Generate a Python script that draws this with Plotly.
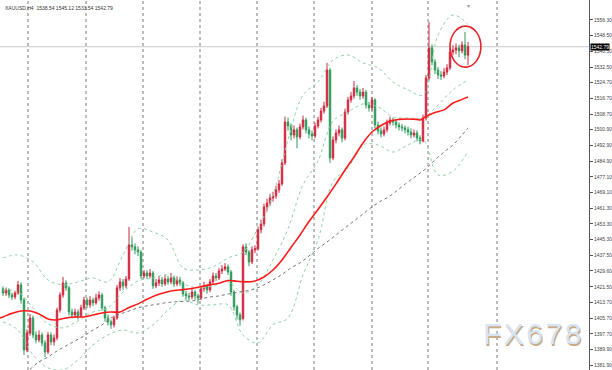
import plotly.graph_objects as go

symbol = "XAUUSD,H4"
last_ohlc = [1538.54, 1545.12, 1533.54, 1542.79]
last_price = 1542.79

bars = list(range(156))

opens = [1420.5, 1418.4, 1419.9, 1417.4, 1416.4, 1418.4, 1422.5, 1414.9, 1389.6, 1398.2,
         1405.8, 1397.2, 1394.7, 1397.2, 1393.2, 1388.6, 1397.2, 1393.7, 1395.7, 1409.8,
         1417.4, 1423.5, 1421.0, 1408.8, 1407.3, 1408.8, 1406.8, 1410.9, 1414.9, 1412.4,
         1414.9, 1413.4, 1415.9, 1417.4, 1410.9, 1405.8, 1403.8, 1402.3, 1405.8, 1421.0,
         1424.0, 1422.0, 1425.5, 1442.7, 1441.7, 1440.2, 1439.1, 1427.0, 1428.5, 1427.0,
         1428.5, 1422.0, 1423.5, 1425.0, 1423.0, 1425.5, 1424.0, 1426.0, 1423.0, 1425.0,
         1423.5, 1417.9, 1416.9, 1416.4, 1418.9, 1416.9, 1415.9, 1420.5, 1422.0, 1419.9,
         1424.0, 1427.0, 1426.0, 1429.5, 1430.5, 1431.6, 1429.0, 1418.9, 1411.4, 1407.3,
         1405.5, 1441.7, 1439.1, 1434.1, 1440.2, 1440.7, 1450.3, 1453.3, 1461.9, 1463.9,
         1466.4, 1467.4, 1470.5, 1473.5, 1484.1, 1504.8, 1502.8, 1498.2, 1500.8, 1497.2,
         1502.3, 1505.8, 1500.8, 1498.7, 1497.7, 1502.8, 1505.8, 1510.3, 1512.9, 1531.0,
         1486.6, 1495.7, 1499.2, 1500.8, 1496.7, 1509.8, 1515.9, 1517.9, 1522.0, 1519.9,
         1517.9, 1519.9, 1513.4, 1511.9, 1515.9, 1503.3, 1500.3, 1498.7, 1500.8, 1504.3,
         1505.8, 1504.8, 1503.3, 1502.3, 1501.8, 1500.8, 1499.7, 1498.2, 1499.2, 1496.7,
         1495.2, 1506.8, 1527.0, 1542.2, 1535.1, 1531.0, 1528.5, 1528.0, 1530.0, 1532.1,
         1540.1, 1541.2, 1542.2, 1540.7, 1543.7, 1538.54]

highs = [1421.8, 1421.2, 1420.8, 1418.6, 1419.5, 1424.5, 1423.8, 1416.0, 1400.0, 1407.8,
         1407.0, 1399.0, 1399.5, 1398.5, 1394.5, 1398.8, 1398.5, 1397.5, 1411.0, 1418.8,
         1426.5, 1424.8, 1422.0, 1410.5, 1410.5, 1410.0, 1412.5, 1416.5, 1416.0, 1416.8,
         1416.0, 1418.0, 1419.2, 1418.5, 1412.0, 1407.5, 1405.0, 1407.0, 1422.5, 1426.0,
         1425.5, 1427.0, 1451.8, 1446.5, 1443.5, 1442.0, 1440.0, 1430.0, 1429.8, 1430.5,
         1429.5, 1425.5, 1427.0, 1426.5, 1427.5, 1427.0, 1428.5, 1427.2, 1426.8, 1426.5,
         1424.5, 1419.5, 1418.5, 1421.0, 1420.0, 1418.0, 1422.0, 1424.0, 1423.0, 1425.5,
         1428.8, 1428.5, 1431.0, 1432.5, 1433.5, 1432.8, 1430.0, 1420.0, 1412.5, 1408.5,
         1443.0, 1443.5, 1440.0, 1442.0, 1442.5, 1452.0, 1455.5, 1463.5, 1466.0, 1468.5,
         1469.5, 1472.5, 1475.5, 1486.0, 1507.5, 1507.0, 1504.0, 1503.0, 1502.0, 1504.0,
         1508.0, 1507.0, 1502.5, 1500.5, 1504.5, 1507.5, 1512.0, 1515.0, 1534.6, 1532.0,
         1497.5, 1501.0, 1503.0, 1502.0, 1511.5, 1517.5, 1520.0, 1525.5, 1523.5, 1521.5,
         1522.0, 1521.0, 1515.0, 1517.5, 1516.8, 1505.0, 1502.0, 1502.5, 1506.0, 1507.5,
         1507.0, 1506.0, 1504.5, 1503.8, 1503.0, 1502.5, 1501.5, 1501.0, 1500.5, 1498.0,
         1508.5, 1528.5, 1555.3, 1544.0, 1536.5, 1532.5, 1530.5, 1532.0, 1534.0, 1542.0,
         1543.5, 1544.5, 1543.8, 1545.5, 1550.2, 1545.12]

lows = [1416.9, 1417.0, 1415.8, 1414.9, 1415.2, 1417.5, 1413.0, 1387.1, 1388.5, 1396.8,
        1395.5, 1393.0, 1393.5, 1391.5, 1386.1, 1387.5, 1392.0, 1391.8, 1394.5, 1408.5,
        1416.0, 1419.5, 1407.0, 1405.5, 1406.0, 1405.0, 1405.8, 1409.8, 1410.8, 1411.0,
        1411.8, 1412.5, 1414.5, 1409.5, 1404.0, 1402.0, 1400.3, 1401.0, 1404.8, 1419.5,
        1420.0, 1420.8, 1424.5, 1439.8, 1438.0, 1437.0, 1425.5, 1425.8, 1425.5, 1426.0,
        1420.5, 1420.8, 1422.0, 1421.5, 1422.0, 1422.5, 1422.8, 1421.5, 1421.8, 1422.0,
        1416.5, 1415.0, 1414.5, 1415.2, 1415.0, 1413.0, 1414.8, 1419.0, 1418.0, 1418.8,
        1423.0, 1424.5, 1425.0, 1428.0, 1429.5, 1427.5, 1417.0, 1409.5, 1405.0, 1401.8,
        1404.5, 1437.5, 1432.0, 1433.0, 1438.5, 1439.8, 1448.5, 1452.0, 1459.5, 1462.5,
        1464.5, 1466.0, 1469.0, 1472.5, 1483.0, 1500.5, 1495.5, 1496.5, 1491.5, 1496.0,
        1501.0, 1499.0, 1496.5, 1495.5, 1496.5, 1501.5, 1504.5, 1509.0, 1511.8, 1484.1,
        1485.5, 1494.0, 1497.5, 1494.5, 1495.5, 1508.5, 1514.5, 1516.5, 1518.0, 1516.0,
        1516.5, 1511.5, 1510.0, 1510.5, 1501.5, 1498.5, 1497.0, 1497.5, 1499.5, 1503.0,
        1503.0, 1501.5, 1500.5, 1500.0, 1499.0, 1498.0, 1496.5, 1497.0, 1495.0, 1493.5,
        1494.5, 1505.5, 1526.0, 1533.5, 1529.0, 1526.5, 1526.0, 1526.8, 1528.5, 1531.0,
        1538.5, 1539.0, 1537.5, 1539.5, 1536.5, 1533.54]

closes = [1418.4, 1419.9, 1417.4, 1416.4, 1418.4, 1422.5, 1414.9, 1389.6, 1398.2, 1405.8,
          1397.2, 1394.7, 1397.2, 1393.2, 1388.6, 1397.2, 1393.7, 1395.7, 1409.8, 1417.4,
          1423.5, 1421.0, 1408.8, 1407.3, 1408.8, 1406.8, 1410.9, 1414.9, 1412.4, 1414.9,
          1413.4, 1415.9, 1417.4, 1410.9, 1405.8, 1403.8, 1402.3, 1405.8, 1421.0, 1424.0,
          1422.0, 1425.5, 1442.7, 1441.7, 1440.2, 1439.1, 1427.0, 1428.5, 1427.0, 1428.5,
          1422.0, 1423.5, 1425.0, 1423.0, 1425.5, 1424.0, 1426.0, 1423.0, 1425.0, 1423.5,
          1417.9, 1416.9, 1416.4, 1418.9, 1416.9, 1415.9, 1420.5, 1422.0, 1419.9, 1424.0,
          1427.0, 1426.0, 1429.5, 1430.5, 1431.6, 1429.0, 1418.9, 1411.4, 1407.3, 1404.8,
          1441.7, 1439.1, 1434.1, 1440.2, 1440.7, 1450.3, 1453.3, 1461.9, 1463.9, 1466.4,
          1467.4, 1470.5, 1473.5, 1484.1, 1504.8, 1502.8, 1498.2, 1500.8, 1497.2, 1502.3,
          1505.8, 1500.8, 1498.7, 1497.7, 1502.8, 1505.8, 1510.3, 1512.9, 1531.0, 1486.6,
          1495.7, 1499.2, 1500.8, 1496.7, 1509.8, 1515.9, 1517.9, 1522.0, 1519.9, 1517.9,
          1519.9, 1513.4, 1511.9, 1515.9, 1503.3, 1500.3, 1498.7, 1500.8, 1504.3, 1505.8,
          1504.8, 1503.3, 1502.3, 1501.8, 1500.8, 1499.7, 1498.2, 1499.2, 1496.7, 1495.2,
          1506.8, 1527.0, 1542.2, 1535.1, 1531.0, 1528.5, 1528.0, 1530.0, 1532.1, 1540.1,
          1541.2, 1542.2, 1540.7, 1543.7, 1538.54, 1542.79]

# red moving average
ma_fast_idx = [-1, 0, 3, 6, 9, 12, 15, 18, 21, 24, 27, 30, 33, 36, 39, 42, 45, 48, 51, 54,
               57, 60, 63, 66, 69, 72, 75, 78, 81, 84, 87, 90, 93, 96, 99, 102, 105, 108,
               111, 114, 117, 120, 123, 126, 129, 132, 135, 138, 139, 141, 144, 147, 150,
               153, 155]
ma_fast = [1405.8, 1406.3, 1408.1, 1409.3, 1409.3, 1407.8, 1405.3, 1404.8, 1405.8, 1406.3,
           1406.3, 1407.3, 1408.3, 1408.8, 1408.8, 1411.1, 1412.9, 1415.2, 1417.2, 1418.7,
           1419.7, 1420.1, 1420.7, 1421.6, 1422.5, 1423.3, 1424.7, 1424.3, 1424.0, 1424.5,
           1426.5, 1430.0, 1435.1, 1441.4, 1447.7, 1454.5, 1460.6, 1466.9, 1473.5, 1480.5,
           1487.1, 1494.2, 1499.7, 1503.0, 1505.3, 1506.1, 1506.3, 1506.1, 1505.8, 1507.6,
           1509.6, 1510.9, 1514.4, 1516.2, 1517.4]

# grey dotted slow moving average
ma_slow_idx = [9, 12, 15, 18, 21, 24, 27, 30, 33, 36, 39, 42, 45, 48, 51, 54, 57, 60, 63,
               66, 69, 72, 75, 78, 81, 84, 87, 90, 93, 96, 99, 102, 105, 108, 111, 114, 117,
               120, 123, 126, 129, 132, 135, 138, 141, 144, 147, 150, 153, 155]
ma_slow = [1379.8, 1383.6, 1386.1, 1389.1, 1391.7, 1394.2, 1396.7, 1399.7, 1402.3, 1405.8,
           1407.8, 1409.3, 1410.9, 1411.9, 1412.6, 1413.4, 1413.9, 1414.1, 1414.4, 1415.4,
           1416.4, 1416.9, 1417.9, 1418.7, 1419.4, 1420.5, 1422.5, 1425.0, 1427.8, 1431.1,
           1433.6, 1437.1, 1440.9, 1444.2, 1447.7, 1451.3, 1454.8, 1458.3, 1461.9, 1464.9,
           1467.4, 1470.9, 1474.5, 1477.8, 1481.3, 1485.6, 1489.6, 1493.2, 1498.2, 1501.8]

# Bollinger bands
band_idx = [0, 5, 10, 15, 20, 25, 30, 35, 40, 45, 50, 55, 60, 65, 70, 75, 80, 85, 90, 95,
            100, 105, 110, 115, 120, 125, 130, 135, 140, 145, 150, 155]
band_upper = [1436.1, 1437.6, 1434.1, 1425.0, 1422.5, 1424.0, 1426.0, 1424.0, 1437.6, 1450.8,
              1449.2, 1445.2, 1431.1, 1430.0, 1431.6, 1436.1, 1439.1, 1451.3, 1467.9, 1495.7,
              1518.4, 1525.0, 1536.1, 1538.6, 1534.6, 1532.1, 1525.0, 1521.0, 1518.4, 1548.7,
              1558.8, 1554.0]
band_mid = [1419.9, 1418.9, 1410.9, 1402.8, 1400.8, 1404.3, 1408.8, 1410.9, 1418.9, 1424.5,
            1426.0, 1427.5, 1423.0, 1421.0, 1422.0, 1424.0, 1418.4, 1422.5, 1435.1, 1450.8,
            1473.0, 1485.1, 1505.3, 1509.8, 1513.9, 1512.4, 1507.3, 1506.8, 1506.8, 1513.4,
            1521.0, 1526.0]
band_lower = [1403.8, 1399.7, 1387.1, 1380.6, 1379.6, 1384.6, 1392.2, 1397.2, 1399.7, 1398.2,
              1402.3, 1409.8, 1414.9, 1412.4, 1412.4, 1412.4, 1397.2, 1393.2, 1402.3, 1405.8,
              1427.5, 1445.2, 1474.5, 1481.6, 1493.2, 1493.2, 1489.6, 1493.2, 1495.7, 1478.0,
              1480.0, 1490.0]

price_ticks = [1556.30, 1548.50, 1540.50, 1532.50, 1524.70, 1516.70, 1508.70, 1500.90,
               1492.90, 1484.90, 1477.10, 1469.10, 1461.30, 1453.30, 1445.30, 1437.50,
               1429.60, 1421.50, 1413.70, 1405.70, 1397.70, 1389.90, 1381.90]

grid_bars = [8.33, 27.67, 46.67, 65.67, 84.67, 103.67, 123.0, 141.67, 164.67]
highlight = [149.0, 159.3, 1532.5, 1553.2]  # x0, x1, y0, y1 of the red ring
shift_marker_bar = 155.3

UP = "#d0283f"
DOWN = "#2f9a5a"
BAND = "#8fd3a8"

fig = go.Figure()

for band in (band_upper, band_mid, band_lower):
    fig.add_trace(go.Scatter(x=band_idx, y=band, mode="lines",
                             line=dict(color=BAND, width=1, dash="dot", shape="spline"),
                             hoverinfo="skip"))

fig.add_trace(go.Scatter(x=ma_slow_idx, y=ma_slow, mode="lines",
                         line=dict(color="#777777", width=1, dash="dot", shape="spline"),
                         hoverinfo="skip"))

fig.add_trace(go.Candlestick(
    x=bars, open=opens, high=highs, low=lows, close=closes,
    increasing=dict(line=dict(color=UP, width=1), fillcolor=UP),
    decreasing=dict(line=dict(color=DOWN, width=1), fillcolor=DOWN),
    whiskerwidth=0,
))

fig.add_trace(go.Scatter(x=ma_fast_idx, y=ma_fast, mode="lines",
                         line=dict(color="#ff1a1a", width=1.6, shape="spline"),
                         hoverinfo="skip"))

shapes = []
for g in grid_bars:
    shapes.append(dict(type="line", xref="x", yref="paper", x0=g, x1=g, y0=0, y1=1,
                       line=dict(color="#7a7a7a", width=1, dash="dot"), layer="below"))
shapes.append(dict(type="line", xref="paper", yref="y", x0=0, x1=1, y0=last_price,
                   y1=last_price, line=dict(color="#c8c8c8", width=1), layer="below"))
shapes.append(dict(type="circle", xref="x", yref="y", x0=highlight[0], x1=highlight[1],
                   y0=highlight[2], y1=highlight[3], line=dict(color="#e8242b", width=1.6)))

wm = "F\u200aX\u200a6\u200a7\u200a8"
annotations = [
    dict(text=symbol + "  " + " ".join(f"{v:.2f}" for v in last_ohlc),
         xref="paper", yref="paper", x=0.005, y=0.992, xanchor="left", yanchor="top",
         showarrow=False, font=dict(family="Liberation Sans", size=5, color="#333333")),
    dict(text=f"{last_price:.2f}", xref="paper", yref="y", x=1.0, y=last_price,
         xanchor="left", yanchor="middle", showarrow=False, bgcolor="#000000",
         borderpad=0, xshift=1,
         font=dict(family="Liberation Sans", size=5, color="#ffffff")),
    dict(text="\u25be", xref="x", yref="paper", x=shift_marker_bar, y=0.985,
         xanchor="center", yanchor="middle", showarrow=False,
         font=dict(family="DejaVu Sans", size=6, color="#9a9a9a")),
    dict(text=wm, xref="paper", yref="paper", x=0.9024, y=0.0973,
         xanchor="center", yanchor="middle", showarrow=False, xshift=1.5, yshift=-1.5,
         font=dict(family="Liberation Sans", size=30, color="#c9ab88")),
    dict(text=wm, xref="paper", yref="paper", x=0.9024, y=0.0973,
         xanchor="center", yanchor="middle", showarrow=False,
         font=dict(family="Liberation Sans", size=30, color="#d8e5f4")),
]

fig.update_layout(
    width=612, height=370,
    margin=dict(l=0, r=23, t=0, b=0),
    paper_bgcolor="white", plot_bgcolor="white",
    showlegend=False,
    shapes=shapes, annotations=annotations,
    xaxis=dict(range=[-1, 195.33], visible=False, rangeslider=dict(visible=False),
               showgrid=False, zeroline=False),
    yaxis=dict(range=[1379.5, 1566.4], side="right", showgrid=False, zeroline=False,
               tickvals=price_ticks, ticktext=[f"{v:.2f}" for v in price_ticks],
               ticks="outside", ticklen=3, tickcolor="#555555",
               showline=True, linecolor="#555555", linewidth=1,
               tickfont=dict(family="Liberation Sans", size=5, color="#444444")),
)

fig.write_html("out.html")
